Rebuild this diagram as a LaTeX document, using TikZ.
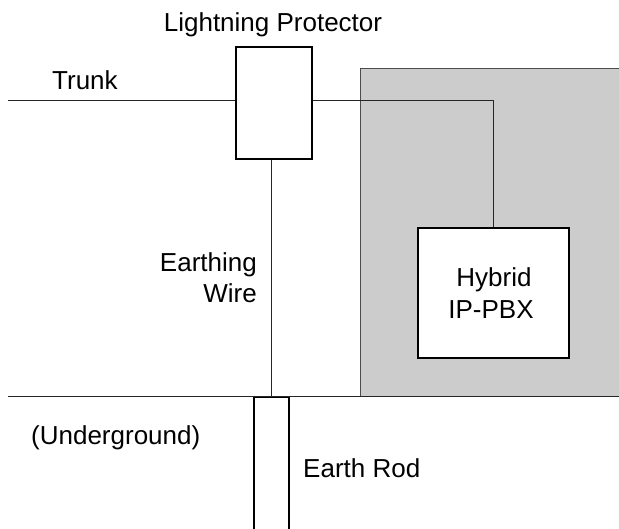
\documentclass[tikz,border=0pt]{standalone}
\usepackage{fontspec}
\setmainfont{Liberation Sans}
\begin{document}
\begin{tikzpicture}[x=1pt,y=-1pt,
  thinline/.style={line width=1pt,draw=black!85},
  boxline/.style={draw=black,line width=2pt,fill=white,inner sep=0pt},
  lbl/.style={font=\fontsize{26}{31}\selectfont,inner sep=0pt}]
\clip (0,0) rectangle (619,529);
\fill[white] (0,0) rectangle (619,529);
% building area
\fill[black!20] (360,69) rectangle (625,397);
\draw[line width=1pt,draw=black!70] (625,69) -- (360,69) -- (360,397);
% coordinates
\coordinate (trunk) at (8,101);
\coordinate (gl) at (8,397);
\coordinate (gr) at (625,397);
% nodes
\node[boxline,minimum width=76pt,minimum height=112pt] (prot) at (274,103) {};
\node[boxline,minimum width=151pt,minimum height=130pt] (pbx) at (493.5,293) {};
\node[boxline,minimum width=35pt,minimum height=160pt] (rod) at (271.5,477) {};
% connectors
\draw[thinline] (trunk) -- (trunk -| prot.west);
\draw[thinline] (prot.east |- trunk) -- (pbx.north |- trunk) -- (pbx.north);
\draw[thinline] (rod.north |- prot.south) -- (rod.north);
\draw[thinline] (gl) -- (gr);
% labels
\node[lbl,anchor=base] (lp) at (273,32) {Lightning Protector};
\node[lbl,anchor=base west] (tr) at (52,90) {Trunk};
\node[lbl,anchor=base east] (ew1) at (257,272) {Earthing};
\node[lbl,anchor=base east] (ew2) at (257,303) {Wire};
\node[lbl,anchor=base] (hy) at (494,287) {Hybrid};
\node[lbl,anchor=base] (ip) at (491,319) {IP-PBX};
\node[lbl,anchor=base west] (ug) at (31,445) {(Underground)};
\node[lbl,anchor=base west] (er) at (303,477) {Earth Rod};
\end{tikzpicture}
\end{document}
